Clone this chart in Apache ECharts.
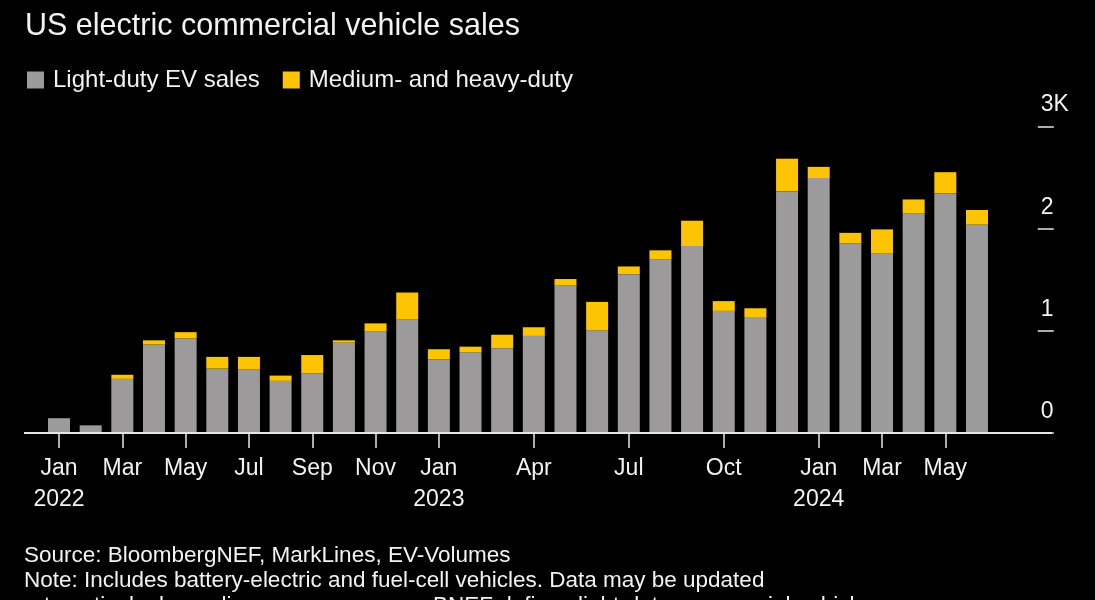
<!DOCTYPE html>
<html>
<head>
<meta charset="utf-8">
<script src="https://cdn.jsdelivr.net/npm/echarts@6/dist/echarts.min.js"></script>
<style>
  html, body { margin: 0; padding: 0; background: #000; }
  #chart { width: 1095px; height: 600px; }
</style>
</head>
<body>
<div id="chart"></div>
<script>
// ---- Data ----
const categories = [
  'Jan 2022','Feb 2022','Mar 2022','Apr 2022','May 2022','Jun 2022','Jul 2022','Aug 2022','Sep 2022','Oct 2022','Nov 2022','Dec 2022',
  'Jan 2023','Feb 2023','Mar 2023','Apr 2023','May 2023','Jun 2023','Jul 2023','Aug 2023','Sep 2023','Oct 2023','Nov 2023','Dec 2023',
  'Jan 2024','Feb 2024','Mar 2024','Apr 2024','May 2024','Jun 2024'
];
const lightDuty = [145, 75, 530, 865, 925, 630, 620, 510, 585, 885, 995, 1110,
                   720, 790, 830, 950, 1445, 1005, 1555, 1700, 1830, 1195, 1135, 2365,
                   2495, 1855, 1755, 2150, 2345, 2040];
const mediumHeavy = [0, 0, 40, 42, 62, 115, 125, 52, 178, 22, 78, 265,
                     100, 55, 132, 85, 62, 278, 75, 88, 248, 96, 86, 320,
                     110, 104, 238, 136, 208, 143];
const labeledMonths = ['Jan 2022','Mar 2022','May 2022','Jul 2022','Sep 2022','Nov 2022',
                       'Jan 2023','Apr 2023','Jul 2023','Oct 2023','Jan 2024','Mar 2024','May 2024'];
const yTickValues = [0, 1000, 2000, 3000];
const yTickLabels = ['0', '1', '2', '3K'];
const seriesNames = ['Light-duty EV sales', 'Medium- and heavy-duty'];
const titleText = 'US electric commercial vehicle sales';
const sourceLines = [
  'Source: BloombergNEF, MarkLines, EV-Volumes',
  'Note: Includes battery-electric and fuel-cell vehicles. Data may be updated',
  'retroactively depending on new sources. BNEF defines light-duty commercial vehicles'
];

// ---- Styles ----
const FONT = '"Liberation Sans", Arial, Helvetica, sans-serif';
const GRAY = '#9c9a9b';
const YELLOW = '#fcc402';
const TEXT = '#f2f2f2';
const AXIS = '#e6e6e6';

const showIdx = (i) => labeledMonths.indexOf(categories[i]) >= 0;

const chart = echarts.init(document.getElementById('chart'), null, { renderer: 'canvas' });
chart.setOption({
  backgroundColor: '#000',
  animation: false,
  textStyle: { fontFamily: FONT },
  title: {
    text: titleText,
    left: 20,
    top: 6,
    textStyle: { color: TEXT, fontSize: 30.5, fontWeight: 'normal', fontFamily: FONT }
  },
  legend: {
    left: 22,
    top: 63,
    itemWidth: 17,
    itemHeight: 17,
    itemGap: 23,
    icon: 'rect',
    textStyle: { color: TEXT, fontSize: 24, fontFamily: FONT, padding: [0, 0, 0, 4] },
    data: seriesNames
  },
  grid: { left: 43.2, right: 102.2, top: 126.5, bottom: 167 },
  xAxis: {
    type: 'category',
    data: categories,
    axisLine: { show: false },
    axisTick: {
      show: true,
      alignWithLabel: true,
      interval: (i) => showIdx(i),
      length: 15,
      lineStyle: { color: AXIS, width: 1.5 }
    },
    axisLabel: {
      interval: (i) => showIdx(i),
      color: TEXT,
      fontSize: 23,
      lineHeight: 31,
      margin: 20,
      fontFamily: FONT,
      formatter: (v) => {
        const [m, y] = v.split(' ');
        return m === 'Jan' ? m + '\n' + y : m;
      }
    },
    splitLine: { show: false }
  },
  yAxis: {
    type: 'value',
    position: 'right',
    min: 0,
    max: 3000,
    interval: 1000,
    offset: 45,
    axisLine: { show: false },
    axisTick: { show: true, inside: false, length: 16, lineStyle: { color: AXIS, width: 1.5 } },
    splitLine: { show: false },
    axisLabel: {
      color: TEXT,
      fontSize: 23,
      fontFamily: FONT,
      margin: 3,
      align: 'left',
      verticalAlign: 'bottom',
      lineHeight: 23,
      padding: [0, 0, 10, 0],
      formatter: (v) => {
        const k = yTickValues.indexOf(v);
        return k >= 0 ? yTickLabels[k] : '';
      }
    }
  },
  series: [
    {
      name: seriesNames[0],
      type: 'bar',
      stack: 'total',
      barWidth: 22,
      itemStyle: { color: GRAY },
      data: lightDuty
    },
    {
      name: seriesNames[1],
      type: 'bar',
      stack: 'total',
      barWidth: 22,
      itemStyle: { color: YELLOW },
      data: mediumHeavy
    }
  ],
  graphic: [
    {
      type: 'line',
      z: 100,
      shape: { x1: 24, y1: 433, x2: 1052, y2: 433 },
      style: { stroke: AXIS, lineWidth: 2 }
    },
    {
      type: 'text',
      left: 24,
      top: 543,
      style: {
        text: sourceLines.join('\n'),
        fill: TEXT,
        font: '22.5px ' + FONT,
        lineHeight: 25
      }
    }
  ]
});
</script>
</body>
</html>
